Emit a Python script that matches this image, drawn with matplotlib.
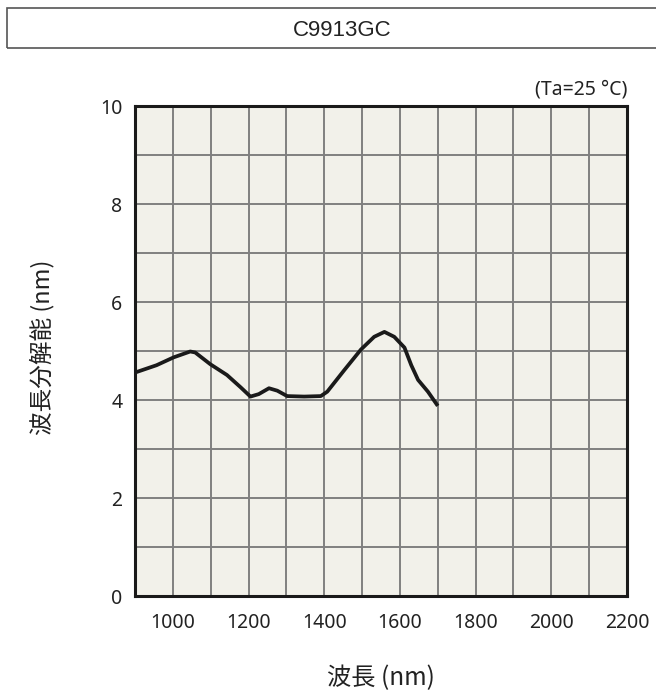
import matplotlib
matplotlib.use('Agg')
import matplotlib.pyplot as plt
from matplotlib.patches import Rectangle

# curve
wavelength = [900, 957, 1002, 1046, 1059, 1099, 1143, 1179, 1205, 1227, 1254, 1276, 1302,
              1347, 1391, 1408, 1453, 1497, 1532, 1559, 1585, 1612, 1630, 1648, 1674, 1700]
resolution = [4.56, 4.71, 4.87, 4.99, 4.97, 4.73, 4.51, 4.26, 4.07, 4.12, 4.24, 4.19, 4.08,
              4.07, 4.08, 4.17, 4.61, 5.03, 5.29, 5.39, 5.29, 5.07, 4.71, 4.41, 4.17, 3.88]
xticks = [1000, 1200, 1400, 1600, 1800, 2000, 2200]
yticks = [0, 2, 4, 6, 8, 10]

plt.rcParams['font.family'] = ['Noto Sans CJK JP', 'DejaVu Sans']

fig = plt.figure(figsize=(6.56, 6.91), dpi=100)
ax = fig.add_axes([135 / 656, 95 / 691, 492 / 656, 490 / 691])
ax.set_facecolor('#f2f1ea')

ax.plot(wavelength, resolution, color='#1a1a1a', lw=2.7, solid_capstyle='butt',
        solid_joinstyle='round', zorder=3)

ax.set_xlim(900, 2200)
ax.set_ylim(0, 10)
ax.set_xticks(range(900, 2201, 100), minor=True)
ax.set_yticks(range(0, 11), minor=True)
ax.set_xticks(xticks)
ax.set_yticks(yticks)
ax.grid(True, which='both', color='#808080', lw=1.4)
ax.set_axisbelow(True)
ax.tick_params(which='both', length=0)
ax.tick_params(axis='x', pad=12)
ax.tick_params(axis='y', pad=9)
for lab in ax.get_xticklabels() + ax.get_yticklabels():
    lab.set_family(['Noto Sans', 'DejaVu Sans'])
    lab.set_fontsize(14)
    lab.set_color('#222222')
for s in ax.spines.values():
    s.set_linewidth(2.2)
    s.set_color('#1a1a1a')

ax.set_xlabel('波長 (nm)', fontsize=17.5, color='#222222', va='center')
ax.xaxis.set_label_coords(0.5, -0.168)
ax.set_ylabel('波長分解能 (nm)', fontsize=17, color='#222222', va='center')
ax.yaxis.set_label_coords(-0.189, 0.507)
ax.text(1.0, 1.014, '(Ta=25 °C)', transform=ax.transAxes, ha='right', va='bottom',
        fontsize=14, family=['Noto Sans', 'DejaVu Sans'], color='#222222')

# title box
fig.patches.append(Rectangle((7 / 656, 1 - 48 / 691), 1.0, 40 / 691, transform=fig.transFigure,
                             fill=False, edgecolor='#555555', lw=1.2))
fig.text(342 / 656, 1 - 30 / 691, 'C9913GC', ha='center', va='center', fontsize=16,
         family=['Liberation Sans', 'DejaVu Sans'], color='#222222')

fig.savefig('out.png', dpi=100)
